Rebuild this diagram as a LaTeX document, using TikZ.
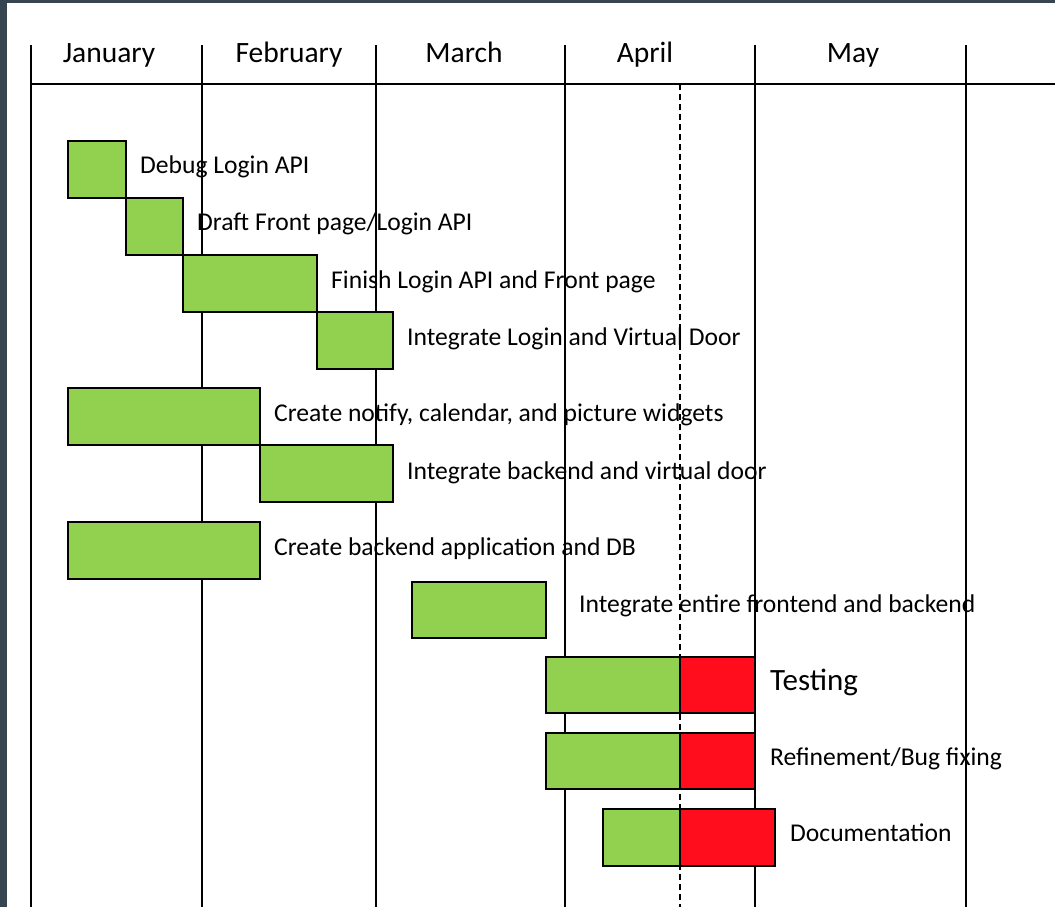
\documentclass[tikz,border=0pt]{standalone}
\usepackage{fontspec}
\setmainfont{Carlito}
\definecolor{frameC}{HTML}{36454F}
\definecolor{barG}{HTML}{92D050}
\definecolor{barR}{HTML}{FF0D1C}
\tikzset{
  grid/.style={line width=2pt, black},
  gbar/.style={draw=black, line width=2pt, fill=barG, inner sep=0pt, outer sep=0pt, anchor=north west},
  rbar/.style={draw=black, line width=2pt, fill=barR, inner sep=0pt, outer sep=0pt, anchor=north west},
  task/.style={anchor=base west, inner sep=0pt, font=\fontsize{25.6}{28}\selectfont},
  bigtask/.style={anchor=base west, inner sep=0pt, font=\fontsize{31}{34}\selectfont},
  month/.style={anchor=base, inner sep=0pt, font=\fontsize{29.5}{32}\selectfont},
}
\begin{document}
\begin{tikzpicture}[x=1pt,y=-1pt]
\useasboundingbox (0,0) rectangle (1055,907);
\fill[frameC] (0,0) rectangle (1055,907);
\fill[white] (7,3) rectangle (1055,907);
% grid
\foreach \xx in {31,202,376,565,755,966} \draw[grid] (\xx,45) -- (\xx,907);
\draw[grid] (31,84) -- (1055,84);
\draw[line width=2pt, dash pattern=on 6pt off 4pt] (680,84) -- (680,907);
% months
\node[month] (jan) at (109,63) {January};
\node[month] (feb) at (289,63) {February};
\node[month] (mar) at (464,63) {March};
\node[month] (apr) at (645,63) {April};
\node[month] (may) at (853,63) {May};
% bars
\node[gbar, minimum width=58pt, minimum height=57pt] (b1) at (68,141) {};
\node[gbar, minimum width=57pt, minimum height=57pt] (b2) at (126,198) {};
\node[gbar, minimum width=134pt, minimum height=57pt] (b3) at (183,255) {};
\node[gbar, minimum width=76pt, minimum height=57pt] (b4) at (317,312) {};
\node[gbar, minimum width=192pt, minimum height=57pt] (b5) at (68,388) {};
\node[gbar, minimum width=133pt, minimum height=57pt] (b6) at (260,445) {};
\node[gbar, minimum width=192pt, minimum height=57pt] (b7) at (68,522) {};
\node[gbar, minimum width=134pt, minimum height=56pt] (b8) at (412,582) {};
\node[gbar, minimum width=134pt, minimum height=56pt] (b9g) at (546,657) {};
\node[rbar, minimum width=75pt, minimum height=56pt] (b9r) at (680,657) {};
\node[gbar, minimum width=134pt, minimum height=56pt] (b10g) at (546,733) {};
\node[rbar, minimum width=75pt, minimum height=56pt] (b10r) at (680,733) {};
\node[gbar, minimum width=77pt, minimum height=57pt] (b11g) at (603,809) {};
\node[rbar, minimum width=95pt, minimum height=57pt] (b11r) at (680,809) {};
% labels
\node[task] (t1) at (140,173) {Debug Login API};
\node[task] (t2) at (197,230) {Draft Front page/Login API};
\node[task] (t3) at (331,288) {Finish Login API and Front page};
\node[task] (t4) at (407,345) {Integrate Login and Virtual Door};
\node[task] (t5) at (274,421.5) {Create notify, calendar, and picture widgets};
\node[task] (t6) at (407,479) {Integrate backend and virtual door};
\node[task] (t7) at (274,555.5) {Create backend application and DB};
\node[task] (t8) at (579,612.5) {Integrate entire frontend and backend};
\node[bigtask] (t9) at (770,690) {Testing};
\node[task] (t10) at (770,765.5) {Refinement/Bug fixing};
\node[task] (t11) at (790,841.5) {Documentation};
\end{tikzpicture}
\end{document}
